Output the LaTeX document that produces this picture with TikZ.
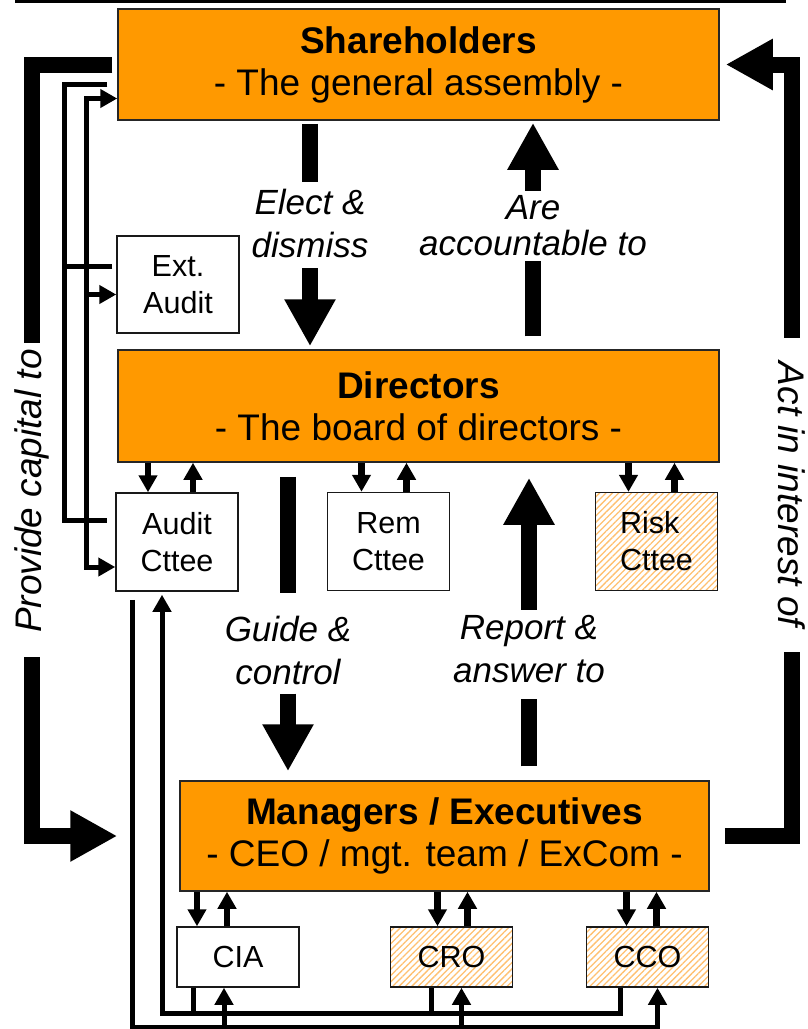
\documentclass[tikz,border=0pt]{standalone}
\usepackage{fontspec}
\setmainfont{Liberation Sans}
\usetikzlibrary{arrows.meta,patterns.meta}

\definecolor{boxorange}{RGB}{255,153,0}
\definecolor{hatchorange}{RGB}{255,192,112}

\tikzset{
  mainbox/.style={draw=black!85, line width=1.5pt, fill=boxorange,
    minimum width=601pt, minimum height=111pt, align=center,
    font=\fontsize{37}{42}\selectfont},
  cttee/.style={draw=black!90, line width=1.5pt,
    minimum width=122pt, minimum height=98pt, align=center,
    font=\fontsize{30.5}{37}\selectfont},
  officer/.style={cttee, minimum height=60pt},
  hatched/.style={pattern={Lines[angle=45,distance=4.5pt,line width=1.3pt]},
    pattern color=hatchorange},
  verbtext/.style={align=center, inner sep=0pt,
    font=\fontsize{35}{43}\selectfont\itshape},
  sidetext/.style={inner sep=0pt, font=\fontsize{37}{43}\selectfont\itshape},
  thickbar/.style={line width=16pt},
  bigtip/.style={-{Triangle[length=47pt,width=48pt]}},
  wire/.style={line width=5pt},
  flow/.style={line width=6.5pt, ->},
}

\begin{document}
\begin{tikzpicture}[x=1pt, y=-1pt, >={Triangle[length=17pt,width=18pt]}]
\useasboundingbox (0,0) rectangle (808,1029);
% rule across the top
\draw[line width=3pt] (15,1.5) -- (786,1.5);

% the three tiers
\node[mainbox] (share) at (418.5,64.5) {\textbf{Shareholders}\\- The general assembly -};
\node[mainbox, minimum height=112pt] (dir) at (418.5,406) {\textbf{Directors}\\- The board of directors -};
\node[mainbox, minimum width=529pt, minimum height=110pt] (mgr) at (444.5,836)
  {\textbf{Managers / Executives}\\- CEO / mgt. team / ExCom -};

% committees and officers
\node[cttee, minimum height=97pt] (ext) at (178,284.5) {Ext.\\Audit};
\node[cttee] (audit) at (177,542) {Audit\\Cttee};
\node[cttee] (rem) at (388.5,541.5) {Rem\\Cttee};
\node[cttee, hatched, align=left] (risk) at (656.5,541.5) {Risk\\Cttee};
\node[officer] (cia) at (238,957) {CIA};
\node[officer, hatched] (cro) at (451.5,957) {CRO};
\node[officer, hatched] (cco) at (647.5,957) {CCO};

% relation labels
\node[verbtext] (elect) at (310,223.5) {Elect \&\\dismiss};
\node[verbtext] (accnt) at (533,226) {Are\\[-7pt]accountable to};
\node[verbtext] (guide) at (288,650) {Guide \&\\control};
\node[verbtext] (report) at (529,649.5) {Report \&\\answer to};
\node[sidetext, rotate=90] (provide) at (32,491) {Provide capital to};
\node[sidetext, rotate=-90] (act) at (792,494.5) {Act in interest of};

% big arrows between the tiers
\draw[thickbar, shorten <=3pt, shorten >=7pt] (share.south -| elect) -- (elect.north);
\draw[thickbar, bigtip, shorten <=10pt, shorten >=3pt] (elect.south) -- (dir.north -| elect);
\draw[thickbar, shorten <=13pt, shorten >=5pt] (dir.north -| accnt) -- (accnt.south);
\draw[thickbar, bigtip, shorten <=5pt, shorten >=2pt] (accnt.north) -- (share.south -| accnt);
\draw[thickbar, shorten <=14pt, shorten >=22pt] (dir.south -| guide) -- (guide.north);
\draw[thickbar, bigtip, shorten <=9pt, shorten >=9pt] (guide.south) -- (mgr.north -| guide);
\draw[thickbar, shorten <=14pt, shorten >=16pt] (mgr.north -| report) -- (report.south);
\draw[thickbar, bigtip, shorten <=6pt, shorten >=15pt] (report.north) -- (dir.south -| report);

% outer loop: capital in, interest out
\draw[thickbar, shorten <=5pt, shorten >=6pt] (share.west) -| (provide.east);
\draw[thickbar, bigtip, shorten <=24pt, shorten >=62pt] (provide.west) |- (mgr.west);
\draw[thickbar, shorten <=15pt, shorten >=25pt] (mgr.east) -| (act.east);
\draw[thickbar, bigtip, shorten <=24pt, shorten >=6pt] (act.west) |- (share.east);

% audit lines on the left
\draw[wire] ([xshift=-10pt,yshift=-20pt]share.west) -- ++(-43,0) |- ([xshift=-8pt,yshift=22pt]audit.west);
\draw[wire] ([xshift=-4pt,yshift=18pt]ext.west) -- ++(-48,0);
\draw[wire, <->] ([yshift=-34pt]share.west) -- ++(-31,0) |- ([yshift=-25pt]audit.west);
\draw[wire, ->] ([xshift=-30pt,yshift=-10pt]ext.west) -- ([yshift=-10pt]ext.west);

% directors and their committees
\draw[flow] ([xshift=-29pt]audit.north |- dir.south) -- ([xshift=-29pt]audit.north);
\draw[flow] ([xshift=16pt]audit.north) -- ([xshift=16pt]audit.north |- dir.south);
\draw[flow] ([xshift=-27pt]rem.north |- dir.south) -- ([xshift=-27pt]rem.north);
\draw[flow] ([xshift=18pt]rem.north) -- ([xshift=18pt]rem.north |- dir.south);
\draw[flow] ([xshift=-28pt]risk.north |- dir.south) -- ([xshift=-28pt]risk.north);
\draw[flow] ([xshift=18pt]risk.north) -- ([xshift=18pt]risk.north |- dir.south);

% managers and their officers
\draw[flow] ([xshift=-41pt]cia.north |- mgr.south) -- ([xshift=-41pt]cia.north);
\draw[flow] ([xshift=-11pt]cia.north) -- ([xshift=-11pt]cia.north |- mgr.south);
\draw[flow] ([xshift=-14pt]cro.north |- mgr.south) -- ([xshift=-14pt]cro.north);
\draw[flow] ([xshift=16pt]cro.north) -- ([xshift=16pt]cro.north |- mgr.south);
\draw[flow] ([xshift=-21pt]cco.north |- mgr.south) -- ([xshift=-21pt]cco.north);
\draw[flow] ([xshift=9pt]cco.north) -- ([xshift=9pt]cco.north |- mgr.south);

% officers report back to the audit committee
\draw[wire, ->, shorten >=3pt] ([xshift=-27pt]cco.south) -- ++(0,26) -| ([xshift=-15pt]audit.south);
\draw[wire] ([xshift=-45pt]cia.south) -- ++(0,26);
\draw[wire] ([xshift=-20pt]cro.south) -- ++(0,26);
\draw[wire, ->] ([xshift=-45pt,yshift=-8pt]audit.south) |- ([xshift=10pt,yshift=-40pt]cco.south) -- ([xshift=10pt]cco.south);
\draw[wire, ->] ([xshift=-14pt,yshift=-40pt]cia.south) -- ([xshift=-14pt]cia.south);
\draw[wire, ->] ([xshift=10pt,yshift=-40pt]cro.south) -- ([xshift=10pt]cro.south);
\end{tikzpicture}
\end{document}
